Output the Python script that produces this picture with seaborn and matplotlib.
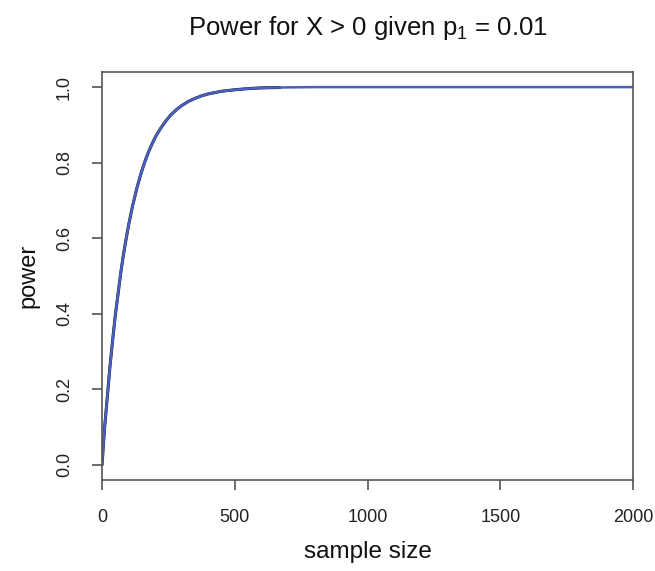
import matplotlib
matplotlib.use("Agg")
import matplotlib.pyplot as plt
import seaborn as sns
import pandas as pd

# values
sample_size = [0, 5, 10, 15, 20, 30, 40, 50, 60, 70, 80, 90, 100, 115, 130, 145,
               160, 175, 190, 205, 220, 240, 260, 280, 300, 325, 350, 375, 400,
               450, 500, 550, 600, 670]
power_black = [0.0, 0.05, 0.10, 0.14, 0.18, 0.26, 0.33, 0.395, 0.45, 0.505, 0.553,
               0.595, 0.634, 0.685, 0.729, 0.767, 0.80, 0.828, 0.852, 0.873, 0.89,
               0.91, 0.927, 0.94, 0.951, 0.962, 0.97, 0.977, 0.982, 0.989, 0.993,
               0.996, 0.998, 0.999]
sample_size_blue = sample_size + [800, 1000, 1500, 2000]
power_blue = power_black + [1.0, 1.0, 1.0, 1.0]

x_ticks = [0, 500, 1000, 1500, 2000]
y_ticks = [0.0, 0.2, 0.4, 0.6, 0.8, 1.0]

sns.set_style("white")
plt.rcParams["font.family"] = ["Liberation Sans", "DejaVu Sans"]
plt.rcParams["mathtext.fontset"] = "custom"
plt.rcParams["mathtext.rm"] = "Liberation Sans"
plt.rcParams["mathtext.it"] = "Liberation Sans"

fig = plt.figure(figsize=(6.55, 5.71), dpi=100)
ax = fig.add_axes([102/655, 1-480/571, (633-102)/655, (480-72)/571])

df_black = pd.DataFrame({"n": sample_size, "power": power_black})
df_blue = pd.DataFrame({"n": sample_size_blue, "power": power_blue})
sns.lineplot(data=df_black, x="n", y="power", ax=ax, color="#1a1a1a", linewidth=2.2)
sns.lineplot(data=df_blue, x="n", y="power", ax=ax, color="#4a5fc1", linewidth=1.8)

ax.set_xlim(0, 2000)
ax.set_ylim(-0.04, 1.04)
ax.set_xticks(x_ticks)
ax.set_xticklabels([str(t) for t in x_ticks], fontsize=13, color="#222222")
ax.set_yticks(y_ticks)
ax.set_yticklabels([f"{t:.1f}" for t in y_ticks], fontsize=13, color="#222222",
                   rotation=90, va="center")
ax.tick_params(axis="both", direction="out", length=7, width=1.1, color="#444444",
               bottom=True, left=True)
ax.tick_params(axis="x", pad=14)
ax.tick_params(axis="y", pad=14)
for s in ax.spines.values():
    s.set_color("#555555")
    s.set_linewidth(1.2)

ax.set_xlabel("sample size", fontsize=17.5, color="#111111", labelpad=11)
ax.set_ylabel("power", fontsize=17, color="#111111", labelpad=12)
ax.set_title(r"Power for X > 0 given p$_1$ = 0.01", fontsize=18.5, color="#111111", pad=27)

fig.savefig("out.png", dpi=100)
